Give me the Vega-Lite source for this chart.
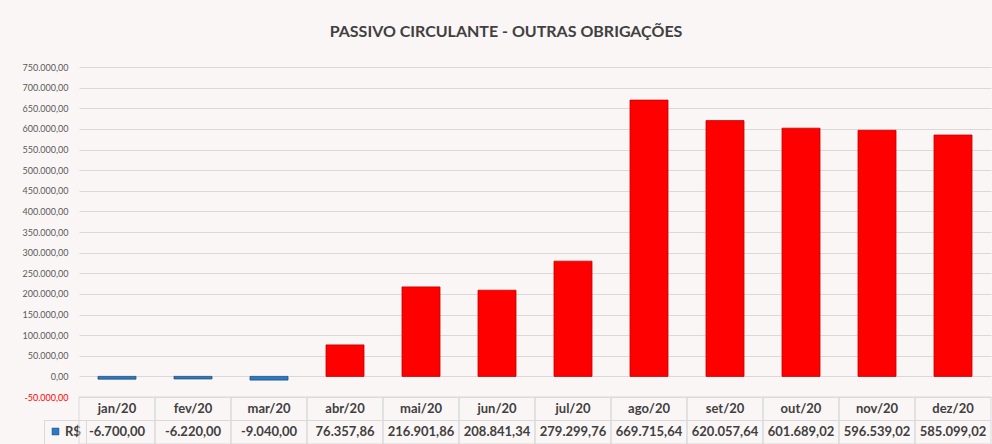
{
  "$schema": "https://vega.github.io/schema/vega-lite/v6.json",
  "background": "#FBF6F6",
  "padding": {"left": 22, "top": 24, "right": 0, "bottom": 0},
  "bounds": "flush",
  "spacing": 0,
  "config": {
    "locale": {"number": {"decimal": ",", "thousands": ".", "grouping": [3], "currency": ["R$ ", ""], "minus": "-"}},
    "view": {"stroke": null},
    "font": "Lato"
  },
  "data": {"values": [
    {"mes": "jan/20", "valor": -6700.00, "serie": "R$"},
    {"mes": "fev/20", "valor": -6220.00, "serie": "R$"},
    {"mes": "mar/20", "valor": -9040.00, "serie": "R$"},
    {"mes": "abr/20", "valor": 76357.86, "serie": "R$"},
    {"mes": "mai/20", "valor": 216901.86, "serie": "R$"},
    {"mes": "jun/20", "valor": 208841.34, "serie": "R$"},
    {"mes": "jul/20", "valor": 279299.76, "serie": "R$"},
    {"mes": "ago/20", "valor": 669715.64, "serie": "R$"},
    {"mes": "set/20", "valor": 620057.64, "serie": "R$"},
    {"mes": "out/20", "valor": 601689.02, "serie": "R$"},
    {"mes": "nov/20", "valor": 596539.02, "serie": "R$"},
    {"mes": "dez/20", "valor": 585099.02, "serie": "R$"}
  ]},
  "resolve": {"scale": {"x": "independent", "y": "independent", "color": "independent"}},
  "vconcat": [
    {
      "width": 912,
      "height": 330,
      "title": {"text": "PASSIVO CIRCULANTE - OUTRAS OBRIGAÇÕES", "fontSize": 16, "font": "Lato", "fontWeight": "bold", "color": "#404040", "anchor": "middle", "frame": "group", "dx": -29, "baseline": "alphabetic", "offset": 10},
      "mark": {"type": "bar", "strokeWidth": 0.8},
      "encoding": {
        "x": {"field": "mes", "type": "ordinal", "sort": null, "axis": null, "scale": {"paddingInner": 0.5, "paddingOuter": 0.25}},
        "y": {
          "field": "valor", "type": "quantitative",
          "scale": {"domain": [-50000, 750000], "nice": false, "zero": false},
          "axis": {
            "title": null,
            "values": [-50000, 0, 50000, 100000, 150000, 200000, 250000, 300000, 350000, 400000, 450000, 500000, 550000, 600000, 650000, 700000, 750000],
            "format": ",.2f", "domain": false, "ticks": false, "labelPadding": 11, "labelFontSize": 9, "labelFont": "Lato",
            "labelColor": {"condition": {"test": "datum.value < 0", "value": "#FF0000"}, "value": "#595959"},
            "gridColor": "#DDD8D8"
          }
        },
        "color": {
          "condition": {"test": "datum.valor > 0", "value": "#FF0000"},
          "field": "serie", "type": "nominal",
          "scale": {"range": ["#2A7BC4"]},
          "legend": {"orient": "none", "legendX": -35, "legendY": 353, "title": null, "symbolType": "square", "symbolSize": 49, "labelFontSize": 13, "labelFontWeight": "bold", "labelColor": "#404040", "labelFont": "Lato", "padding": 5, "strokeColor": "#D9D9D9", "labelOffset": 3, "symbolStrokeColor": "#1F4E79", "symbolStrokeWidth": 0.5}
        },
        "stroke": {"condition": {"test": "datum.valor > 0", "value": "#C00000"}, "value": "#1F4E79"}
      }
    },
    {
      "width": 912,
      "height": 47,
      "encoding": {"x": {"field": "mes", "type": "ordinal", "sort": null, "axis": null, "scale": {"paddingInner": 0, "paddingOuter": 0}}},
      "layer": [
        {"mark": {"type": "rect", "fill": "transparent", "stroke": "#D9D9D9", "strokeWidth": 1},
         "encoding": {"y": {"datum": "cab", "type": "ordinal", "axis": null, "scale": {"domain": ["cab", "val"], "paddingInner": 0, "paddingOuter": 0}}}},
        {"mark": {"type": "rect", "fill": "transparent", "stroke": "#D9D9D9", "strokeWidth": 1},
         "encoding": {"y": {"datum": "val", "type": "ordinal"}}},
        {"mark": {"type": "text", "fontSize": 13, "fontWeight": "bold", "color": "#404040", "font": "Lato"},
         "encoding": {"y": {"datum": "cab", "type": "ordinal"}, "text": {"field": "mes"}}},
        {"mark": {"type": "text", "fontSize": 13, "fontWeight": "bold", "color": "#404040", "font": "Lato"},
         "encoding": {"y": {"datum": "val", "type": "ordinal"}, "text": {"field": "valor", "format": ",.2f"}}}
      ]
    }
  ]
}
